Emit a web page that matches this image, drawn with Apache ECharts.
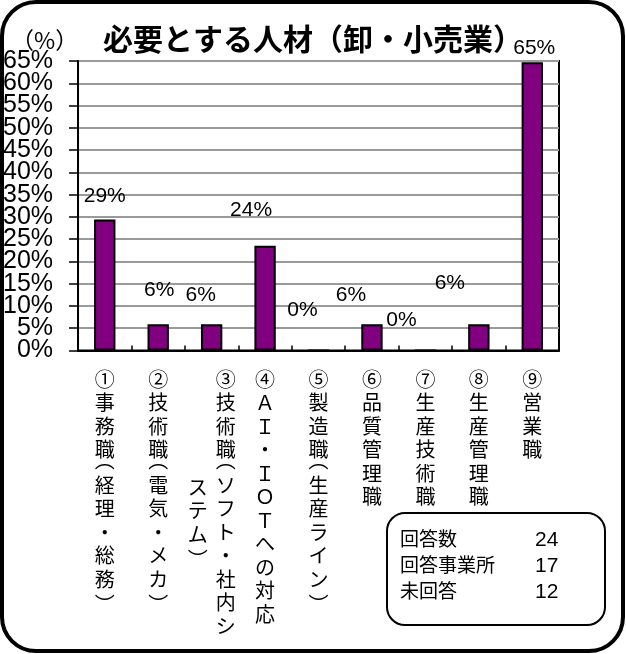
<!DOCTYPE html>
<html>
<head>
<meta charset="utf-8">
<script src="https://cdn.jsdelivr.net/npm/echarts@6/dist/echarts.min.js"></script>
<style>
  html, body { margin: 0; padding: 0; background: #fff; }
  #chart { width: 626px; height: 654px; }
</style>
</head>
<body>
<div id="chart"></div>
<script>
// 必要とする人材（卸・小売業） — 回答事業所 17 社のうち各職種を挙げた割合
const categories = [
  '①事務職(経理・総務)',
  '②技術職(電気・メカ)',
  '③技術職(ソフト・社内システム)',
  '④ＡＩ・ＩＯＴへの対応',
  '⑤製造職(生産ライン)',
  '⑥品質管理職',
  '⑦生産技術職',
  '⑧生産管理職',
  '⑨営業職'
];
const shares = [29.4, 5.9, 5.9, 23.5, 0, 5.9, 0, 5.9, 64.7];
const yTicks = { min: 0, max: 65, step: 5 };
const statLabels = ['回答数', '回答事業所', '未回答'];
const statValues = [24, 17, 12];

const LATIN = '"Liberation Sans", Arial, sans-serif';
const JP = '"Noto Sans CJK JP", sans-serif';
const COLUMN_MAX = 12;   // characters per vertical column before wrapping

// Per-bar nudges of the value labels (hand placed above each bar)
const labelNudge = [[0, -23], [1, -34], [-11, -29], [-14, -36], [-16, -39], [-21, -29], [-24, -29], [-29, -41], [2, -14]];

// Vertical (tategaki) label: one glyph per line, half-height rotated brackets
function verticalText(chars, shift) {
  return chars.map(ch => {
    if (ch === '(') return '{o' + shift + '|︵}';
    if (ch === ')') return '{e' + shift + '|︶}';
    return '{c' + shift + '|' + ch + '}';
  }).join('\n');
}
function firstColumn(name) {
  const chars = Array.from(name);
  return verticalText(chars.slice(0, COLUMN_MAX), chars.length > COLUMN_MAX ? 'R' : '');
}
function secondColumn(name) {
  const chars = Array.from(name);
  return chars.length > COLUMN_MAX ? verticalText(chars.slice(COLUMN_MAX), 'L') : '';
}

const colGap = 28;
const brShift = 14;   // vertical brackets sit off-centre in their em box
function vStyle(kind, side) {
  const s = { fontFamily: JP, fontSize: 20, color: '#000', lineHeight: kind === 'c' ? 23.5 : 12 };
  const pl = side === 'R' ? colGap : 0;
  const pr = side === 'L' ? colGap : 0;
  const pt = kind === 'e' ? brShift : 0;
  const pb = kind === 'o' ? brShift : 0;
  s.padding = [pt, pr, pb, pl];
  return s;
}
const richVertical = {};
['c', 'o', 'e'].forEach(k => ['', 'R', 'L'].forEach(side => { richVertical[k + side] = vStyle(k, side); }));

// Tick values for the percent axis
const tickValues = [];
for (let v = yTicks.min; v <= yTicks.max; v += yTicks.step) tickValues.push(v);
const endValues = [yTicks.min, yTicks.max];
const yLabelStyle = { formatter: '{value}%', margin: 25, fontFamily: LATIN, fontSize: 25, color: '#000', lineHeight: 16 };

const chart = echarts.init(document.getElementById('chart'), null, { renderer: 'canvas' });

const statGraphics = [{
  type: 'rect',
  shape: { x: 387, y: 513, width: 218, height: 112, r: 18 },
  style: { fill: '#fff', stroke: '#000', lineWidth: 2 },
  z: 10
}];
statLabels.forEach((t, i) => {
  statGraphics.push({
    type: 'text', x: 400, y: 539 + i * 26, z: 11,
    style: { text: t, font: '19px ' + JP, fill: '#000', verticalAlign: 'middle' }
  });
  statGraphics.push({
    type: 'text', x: 535, y: 540 + i * 26, z: 11,
    style: { text: String(statValues[i]), font: '21px ' + LATIN, fill: '#000', verticalAlign: 'middle' }
  });
});

chart.setOption({
  animation: false,
  backgroundColor: '#fff',
  title: [{
    text: '必要とする人材（卸・小売業）',
    left: 98, top: 19,
    textStyle: { fontFamily: JP, fontSize: 30, fontWeight: 'bold', color: '#000' }
  }, {
    text: '（%）',
    left: 6, top: 24,
    textStyle: { fontFamily: JP, fontSize: 23, fontWeight: 'normal', color: '#000' }
  }],
  grid: {
    left: 77, top: 61, width: 482, height: 289.5,
    show: true, borderColor: '#000', borderWidth: 2, backgroundColor: 'transparent'
  },
  xAxis: [{
    type: 'category',
    data: categories,
    position: 'bottom',
    axisLine: { lineStyle: { color: '#000', width: 2 } },
    axisTick: { show: true, inside: true, length: 5, lineStyle: { color: '#000', width: 1.5 } },
    axisLabel: { interval: 0, margin: 17, formatter: firstColumn, rich: richVertical, verticalAlign: 'top' },
    splitLine: { show: false }
  }, {
    type: 'category',
    data: categories,
    position: 'bottom',
    gridIndex: 0,
    axisLine: { show: false },
    axisTick: { show: false },
    axisLabel: { interval: 0, margin: 125, formatter: secondColumn, rich: richVertical, verticalAlign: 'top' },
    splitLine: { show: false }
  }],
  yAxis: [{
    type: 'value',
    position: 'left',
    min: yTicks.min, max: yTicks.max, interval: yTicks.step,
    axisLine: { show: true, lineStyle: { color: '#000', width: 2 } },
    axisTick: { show: true, inside: false, length: 9, lineStyle: { color: '#000', width: 1.5 } },
    axisLabel: Object.assign({ showMinLabel: false, showMaxLabel: false }, yLabelStyle),
    splitLine: { show: true, lineStyle: { color: '#9a9a9a', width: 2 } }
  }, {
    // end labels (0% and 65%) drawn on an overlaid axis so none get dropped
    type: 'value',
    position: 'left',
    offset: 0,
    min: yTicks.min, max: yTicks.max, interval: yTicks.step,
    axisLine: { show: false },
    axisTick: { show: true, inside: false, length: 9, customValues: endValues, lineStyle: { color: '#000', width: 1.5 } },
    axisLabel: Object.assign({ customValues: endValues }, yLabelStyle),
    splitLine: { show: false }
  }],
  series: [{
    type: 'bar',
    xAxisIndex: 0,
    yAxisIndex: 0,
    barWidth: '40%',
    data: shares.map((v, i) => ({ value: v, label: { offset: labelNudge[i] } })),
    itemStyle: { color: '#800080', borderColor: '#000', borderWidth: 2 },
    label: {
      show: true,
      position: ['50%', 0],
      align: 'center',
      verticalAlign: 'middle',
      formatter: p => Math.round(p.value) + '%',
      fontFamily: LATIN, fontSize: 21, color: '#000'
    },
    z: 3
  }],
  graphic: [{
    type: 'rect',
    shape: { x: 2, y: 2, width: 621, height: 649, r: 34 },
    style: { fill: 'none', stroke: '#000', lineWidth: 4 },
    z: 20
  }].concat(statGraphics)
});
</script>
</body>
</html>
